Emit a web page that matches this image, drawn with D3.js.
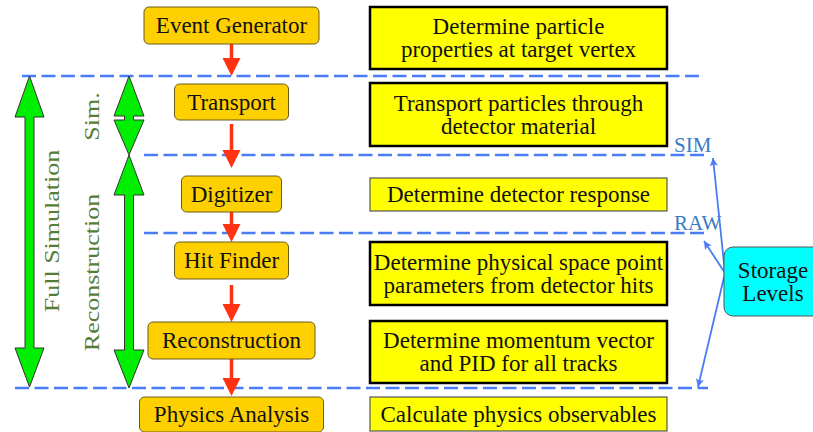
<!DOCTYPE html>
<html>
<head>
<meta charset="utf-8">
<script src="https://cdn.jsdelivr.net/npm/d3@7/dist/d3.min.js"></script>
<style>
  html, body { margin: 0; padding: 0; background: #ffffff; }
  svg { display: block; }
</style>
</head>
<body>
<div id="chart"></div>
<script>
// ---------------- data ----------------
const stages = ["Event Generator", "Transport", "Digitizer", "Hit Finder", "Reconstruction", "Physics Analysis"];
const descriptions = [
  ["Determine particle", "properties at target vertex"],
  ["Transport particles through", "detector material"],
  ["Determine detector response"],
  ["Determine physical space point", "parameters from detector hits"],
  ["Determine momentum vector", "and PID for all tracks"],
  ["Calculate physics observables"]
];
const storageLevels = ["SIM", "RAW"];
const storageTitle = ["Storage", "Levels"];
const phases = ["Full Simulation", "Sim.", "Reconstruction"];

// ---------------- layout ----------------
const W = 813, H = 432;
const FONT = "'Liberation Serif', 'DejaVu Serif', 'Times New Roman', serif";
const stageBox = [ // top, height, width (centred on x = 231)
  {y: 7, h: 37, w: 175}, {y: 84, h: 36, w: 114}, {y: 176, h: 36, w: 100},
  {y: 242, h: 37, w: 114}, {y: 322, h: 37, w: 167}, {y: 397, h: 35, w: 184}
];
const descBox = [ // top, height, thick border
  {y: 7, h: 62, thick: true}, {y: 83, h: 63, thick: true}, {y: 178, h: 33, thick: false},
  {y: 242, h: 63, thick: true}, {y: 321, h: 62, thick: true}, {y: 397, h: 34, thick: false}
];
const flowArrows = [[44, 76], [124, 168], [212, 242], [285, 322], [359, 396]];
const levelLines = [
  {y: 76, x1: 22, x2: 703}, {y: 155, x1: 144, x2: 708},
  {y: 233, x1: 144, x2: 708}, {y: 388, x1: 15, x2: 708}
];
const phaseArrows = [
  {cx: 29.5, y1: 76, y2: 387, h1: 41, h2: 39, hw: 29, sw: 9},
  {cx: 129, y1: 76, y2: 155, h1: 40, h2: 35, hw: 30, sw: 9},
  {cx: 129, y1: 155, y2: 388, h1: 40, h2: 38, hw: 30, sw: 9}
];
const phaseLabels = [{x: 59, y: 231}, {x: 99, y: 116.5}, {x: 99, y: 272.5}];

const cx = 231.5;
const descX = 370, descW = 297;
const fs = 23, lineH = 23, capHalf = 7.5;

const svg = d3.select("#chart").append("svg").attr("width", W).attr("height", H);

const defs = svg.append("defs");
defs.append("marker").attr("id", "blueHead")
  .attr("viewBox", "0 0 10 10").attr("refX", 10).attr("refY", 5)
  .attr("markerWidth", 9).attr("markerHeight", 8).attr("markerUnits", "userSpaceOnUse")
  .attr("orient", "auto")
  .append("path").attr("d", "M0,0 L10,5 L0,10 L2,5 Z").attr("fill", "#4a7cf5");

// dashed level lines
svg.selectAll("line.level").data(levelLines).join("line")
  .attr("class", "level")
  .attr("x1", d => d.x1).attr("x2", d => d.x2)
  .attr("y1", d => d.y).attr("y2", d => d.y)
  .attr("stroke", "#4a7cf5").attr("stroke-width", 2.5)
  .attr("stroke-dasharray", "14,5.5");

// green phase arrows
function dblArrow(a) {
  const c = a.cx, hw = a.hw / 2, sw = a.sw / 2;
  return d3.line()([
    [c, a.y1], [c + hw, a.y1 + a.h1], [c + sw, a.y1 + a.h1], [c + sw, a.y2 - a.h2],
    [c + hw, a.y2 - a.h2], [c, a.y2], [c - hw, a.y2 - a.h2], [c - sw, a.y2 - a.h2],
    [c - sw, a.y1 + a.h1], [c - hw, a.y1 + a.h1]
  ]) + "Z";
}
svg.selectAll("path.phase").data(phaseArrows).join("path")
  .attr("class", "phase")
  .attr("d", dblArrow)
  .attr("fill", "#00ee00").attr("stroke", "#333").attr("stroke-width", 1)
  .attr("stroke-linejoin", "miter");

svg.selectAll("text.phase").data(phases).join("text")
  .attr("class", "phase")
  .attr("transform", (d, i) => `translate(${phaseLabels[i].x},${phaseLabels[i].y}) rotate(-90) scale(1.3,1)`)
  .attr("text-anchor", "middle")
  .attr("font-family", FONT)
  .attr("font-size", 20)
  .attr("fill", "#557d37")
  .text(d => d);

// red flow arrows
const fa = svg.selectAll("g.flow").data(flowArrows).join("g").attr("class", "flow");
fa.append("line")
  .attr("x1", cx).attr("x2", cx)
  .attr("y1", d => d[0]).attr("y2", d => d[1] - 16)
  .attr("stroke", "#ff3311").attr("stroke-width", 3.5);
fa.append("path")
  .attr("d", d => d3.line()([[cx, d[1]], [cx - 9, d[1] - 18], [cx + 9, d[1] - 18]]) + "Z")
  .attr("fill", "#ff3311");

// stage boxes
const sg = svg.selectAll("g.stage").data(stages).join("g").attr("class", "stage");
sg.append("rect")
  .attr("x", (d, i) => cx - stageBox[i].w / 2)
  .attr("y", (d, i) => stageBox[i].y)
  .attr("width", (d, i) => stageBox[i].w)
  .attr("height", (d, i) => stageBox[i].h)
  .attr("rx", 5).attr("ry", 5)
  .attr("fill", "#ffd000").attr("stroke", "#6b5a1e").attr("stroke-width", 1);
sg.append("text")
  .attr("x", cx)
  .attr("y", (d, i) => stageBox[i].y + stageBox[i].h / 2 + capHalf)
  .attr("text-anchor", "middle")
  .attr("font-family", FONT)
  .attr("font-size", fs).attr("fill", "#111")
  .text(d => d);

// description boxes
const dg = svg.selectAll("g.desc").data(descriptions).join("g").attr("class", "desc");
dg.append("rect")
  .attr("x", descX).attr("width", descW)
  .attr("y", (d, i) => descBox[i].y).attr("height", (d, i) => descBox[i].h)
  .attr("fill", "#ffff00")
  .attr("stroke", (d, i) => descBox[i].thick ? "#000" : "#555")
  .attr("stroke-width", (d, i) => descBox[i].thick ? 2.5 : 1.2);
dg.each(function (lines, i) {
  const b = descBox[i];
  const mid = b.y + b.h / 2;
  d3.select(this).selectAll("text").data(lines).join("text")
    .attr("x", descX + descW / 2)
    .attr("y", (l, j) => mid + (j - (lines.length - 1) / 2) * lineH + capHalf)
    .attr("text-anchor", "middle")
    .attr("font-family", FONT)
    .attr("font-size", fs).attr("fill", "#111")
    .text(l => l);
});

// storage level labels
svg.selectAll("text.level").data(storageLevels).join("text")
  .attr("class", "level")
  .attr("x", 674)
  .attr("y", (d, i) => levelLines[i + 1].y - 3)
  .attr("font-family", FONT)
  .attr("font-size", 21).attr("fill", "#3a7cc4")
  .text(d => d);

// storage arrows
const origin = [725, 273];
const storageTargets = [[713, 158], [704, 241], [698, 387]];
svg.selectAll("line.store").data(storageTargets).join("line")
  .attr("class", "store")
  .attr("x1", origin[0]).attr("y1", origin[1])
  .attr("x2", d => d[0]).attr("y2", d => d[1])
  .attr("stroke", "#4a7cf5").attr("stroke-width", 1.8)
  .attr("marker-end", "url(#blueHead)");

// storage box
svg.append("rect")
  .attr("x", 724).attr("y", 247).attr("width", 110).attr("height", 69)
  .attr("rx", 9).attr("ry", 9)
  .attr("fill", "#00ffff").attr("stroke", "#555").attr("stroke-width", 1);
svg.selectAll("text.storage").data(storageTitle).join("text")
  .attr("class", "storage")
  .attr("x", 773)
  .attr("y", (d, i) => 281.5 + (i - 0.5) * lineH + capHalf)
  .attr("text-anchor", "middle")
  .attr("font-family", FONT)
  .attr("font-size", fs).attr("fill", "#111")
  .text(d => d);
</script>
</body>
</html>
